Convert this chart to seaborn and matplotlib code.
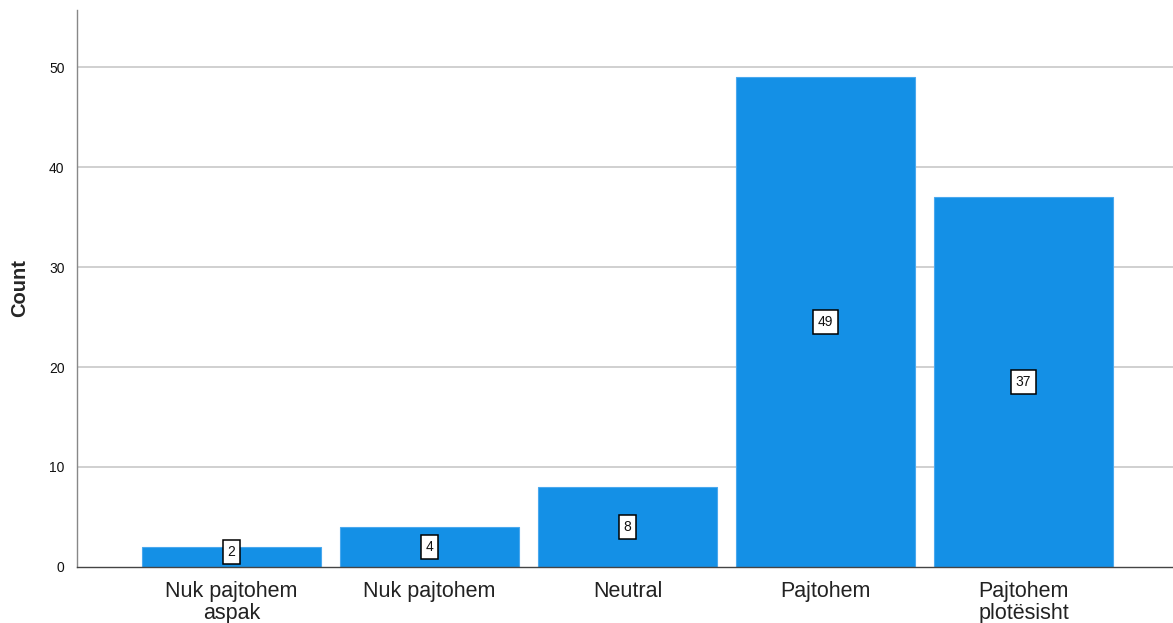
import matplotlib
matplotlib.use("Agg")
import matplotlib.pyplot as plt
import seaborn as sns
import pandas as pd

categories = ["Nuk pajtohem\naspak", "Nuk pajtohem", "Neutral", "Pajtohem", "Pajtohem\nplotësisht"]
counts = [2, 4, 8, 49, 37]
y_ticks = [0, 10, 20, 30, 40, 50]

df = pd.DataFrame({"category": categories, "count": counts})

sns.set_theme(style="white")
plt.rcParams["font.family"] = ["Liberation Sans", "DejaVu Sans"]

fig = plt.figure(figsize=(11.73, 6.23), dpi=100)
ax = fig.add_axes([0.0656, 0.0899, 0.9344, 0.894])

ax.set_axisbelow(True)
for t in y_ticks[1:]:
    ax.axhline(t, color="#c8c8c8", lw=1.2, zorder=0)

sns.barplot(data=df, x="category", y="count", color="#1490e6", saturation=1,
            width=0.9, edgecolor="#4aa8ee", linewidth=0.8, ax=ax, zorder=2)

for i, v in enumerate(counts):
    ax.text(i, max(v / 2, 1.5), str(v), ha="center", va="center", fontsize=10,
            color="#111111", zorder=5,
            bbox=dict(boxstyle="square,pad=0.35", fc="white", ec="black", lw=1.1))

ax.set_xlim(-0.78, 4.755)
ax.set_ylim(0, 55.7)
ax.set_yticks(y_ticks)
ax.set_yticklabels([str(t) for t in y_ticks], fontsize=10, color="#111111")
ax.tick_params(axis="x", labelsize=15.5, colors="#222222", length=0, pad=10)
ax.tick_params(axis="y", length=0, pad=9)
for lbl in ax.get_xticklabels():
    lbl.set_linespacing(1.05)

ax.set_xlabel("")
ax.set_ylabel("Count", fontsize=14.5, fontweight="bold", labelpad=14)

for side in ["top", "right"]:
    ax.spines[side].set_visible(False)
ax.spines["left"].set_color("#888888")
ax.spines["left"].set_linewidth(1.0)
ax.spines["bottom"].set_color("#444444")
ax.spines["bottom"].set_linewidth(1.0)

fig.savefig("out.png", dpi=100)
